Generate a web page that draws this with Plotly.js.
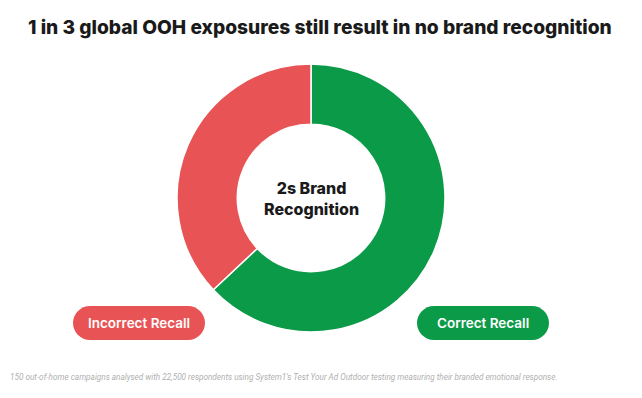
<!DOCTYPE html>
<html><head><meta charset="utf-8">
<script src="https://cdn.plot.ly/plotly-3.0.1.min.js"></script>
<style>html,body{margin:0;padding:0;background:#fff;}#chart{width:642px;height:398px;}</style>
</head><body><div id="chart"></div>
<script>
const labels = ["Correct Recall", "Incorrect Recall"];
const values = [63, 37];
const colors = ["#0B9A47", "#E85455"];
const titleText = "1 in 3 global OOH exposures still result in no brand recognition";
const centerText = "2s Brand<br>Recognition";
const footnote = "150 out-of-home campaigns analysed with 22,500 respondents using System1's Test Your Ad Outdoor testing measuring their branded emotional response.";

function pill(cx, cy, w, h) {
  const r = h / 2, k = 0.5523 * r;
  const x0 = cx - w / 2 + r, x1 = cx + w / 2 - r, y0 = cy - r, y1 = cy + r;
  return `M${x0},${y0} L${x1},${y0} C${x1 + k},${y0} ${x1 + r},${cy - k} ${x1 + r},${cy} ` +
         `C${x1 + r},${cy + k} ${x1 + k},${y1} ${x1},${y1} L${x0},${y1} ` +
         `C${x0 - k},${y1} ${x0 - r},${cy + k} ${x0 - r},${cy} C${x0 - r},${cy - k} ${x0 - k},${y0} ${x0},${y0} Z`;
}
const pillPos = [{cx: 483, cy: 323}, {cx: 139, cy: 323}];

const data = [{
  type: "pie",
  labels: labels,
  values: values,
  marker: {colors: colors, line: {color: "#ffffff", width: 1.5}},
  hole: 0.55,
  sort: false,
  direction: "clockwise",
  rotation: 0,
  textinfo: "none",
  hoverinfo: "label+percent",
  showlegend: false,
  domain: {x: [177 / 642, 445 / 642], y: [1 - 332 / 398, 1 - 64 / 398]}
}];

const shapes = labels.map((l, i) => ({
  type: "path", xref: "x", yref: "y",
  path: pill(pillPos[i].cx, pillPos[i].cy, 132, 34),
  fillcolor: colors[i], line: {width: 0}
}));

const annotations = labels.map((l, i) => ({
  x: pillPos[i].cx, y: pillPos[i].cy, xref: "x", yref: "y",
  text: l, showarrow: false,
  font: {family: "Inter, Roboto, sans-serif", size: 13.5, color: "#ffffff", weight: 600},
  xanchor: "center", yanchor: "middle"
}));
annotations.push({
  x: 311, y: 198, xref: "x", yref: "y", text: centerText, showarrow: false,
  font: {family: "Inter, Roboto, sans-serif", size: 16, color: "#1a1a1a", weight: 800},
  xanchor: "center", yanchor: "middle"
});
annotations.push({
  x: 320, y: 27, xref: "x", yref: "y", text: titleText, showarrow: false,
  font: {family: "Inter, Roboto, sans-serif", size: 19.2, color: "#1a1a1a", weight: 800},
  xanchor: "center", yanchor: "middle"
});
annotations.push({
  x: 8, y: 377, xref: "x", yref: "y", text: "<i>" + footnote + "</i>", showarrow: false,
  font: {family: "Roboto, sans-serif", size: 8.2, color: "#b0b0b0"},
  xanchor: "left", yanchor: "middle"
});

const layout = {
  width: 642, height: 398,
  margin: {l: 0, r: 0, t: 0, b: 0},
  paper_bgcolor: "#ffffff", plot_bgcolor: "rgba(0,0,0,0)",
  xaxis: {range: [0, 642], visible: false, fixedrange: true},
  yaxis: {range: [398, 0], visible: false, fixedrange: true},
  shapes: shapes,
  annotations: annotations,
  showlegend: false
};
Plotly.newPlot("chart", data, layout, {displayModeBar: false, staticPlot: true});
</script></body></html>
